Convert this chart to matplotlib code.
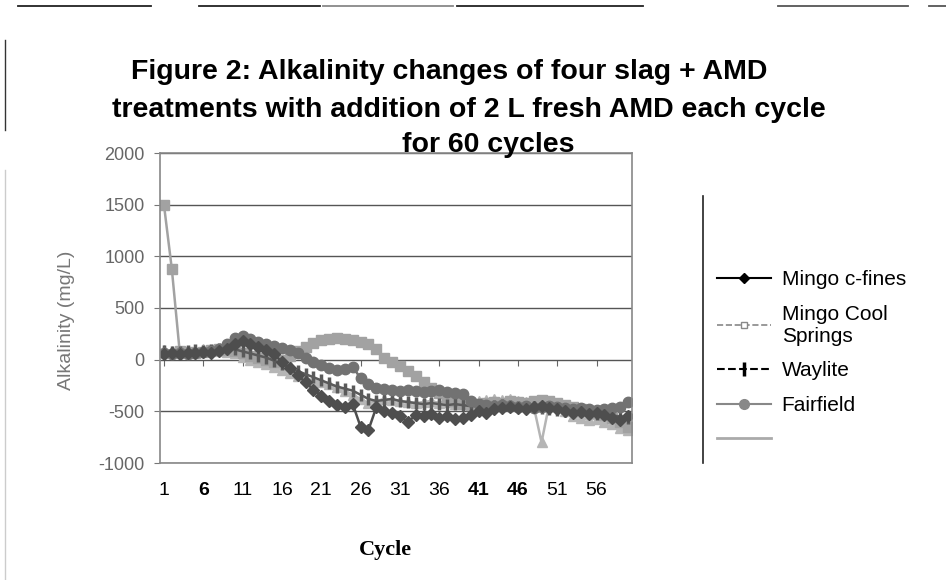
import matplotlib.pyplot as plt
from matplotlib.lines import Line2D

plt.rcParams['font.family'] = ['Liberation Sans', 'DejaVu Sans']

# cycles 1..60 (category axis)
cycles = list(range(1, 61))

mingo_cfines = [50, 60, 50, 60, 60, 70, 60, 80, 100, 150,
                180, 150, 120, 90, 50, -20, -80, -150, -220, -290,
                -350, -400, -440, -460, -430, -650, -680, -460, -500, -520,
                -550, -600, -540, -550, -530, -560, -550, -570, -560, -540,
                -500, -520, -480, -470, -460, -470, -480, -460, -450, -470,
                -480, -500, -520, -510, -530, -520, -540, -560, -580, -550]

mingo_cool = [1500, 880, 80, 70, 60, 70, 90, 100, 90, 80,
              60, 40, 20, 0, -20, 0, 40, 80, 120, 160,
              190, 200, 205, 200, 190, 170, 150, 100, 20, -20,
              -60, -110, -160, -220, -270, -320, -360, -400, -430, -440,
              -430, -420, -410, -420, -400, -410, -420, -400, -390, -400,
              -420, -440, -460, -480, -500, -520, -540, -560, -600, -650]

waylite = [80, 70, 70, 80, 90, 80, 90, 100, 110, 100,
           80, 60, 40, 20, -10, -40, -80, -110, -140, -170,
           -200, -230, -260, -280, -300, -340, -380, -400, -390, -380,
           -400, -410, -420, -430, -420, -430, -440, -430, -440, -450,
           -450, -460, -450, -440, -450, -460, -470, -460, -470, -480,
           -490, -500, -510, -500, -520, -530, -520, -540, -550, -560]

fairfield = [60, 50, 60, 50, 60, 70, 80, 100, 150, 210,
             230, 200, 170, 150, 130, 110, 90, 60, 20, -20,
             -50, -80, -100, -90, -70, -180, -240, -270, -280, -290,
             -300, -290, -300, -310, -300, -290, -310, -320, -330, -400,
             -430, -440, -450, -440, -450, -460, -450, -470, -460, -450,
             -460, -470, -480, -470, -480, -490, -480, -470, -460, -410]

fifth = [90, 80, 70, 80, 90, 100, 90, 80, 70, 60,
         30, 0, -20, -40, -70, -100, -130, -160, -180, -200,
         -220, -240, -260, -300, -340, -380, -420, -400, -380, -390,
         -400, -410, -420, -410, -400, -420, -410, -430, -420, -410,
         -400, -390, -380, -390, -380, -400, -410, -450, -800, -420,
         -450, -500, -550, -560, -580, -570, -600, -620, -660, -680]

tick_cycles = [1, 6, 11, 16, 21, 26, 31, 36, 41, 46, 51, 56]
bold_ticks = [6, 41, 46]
y_ticks = [-1000, -500, 0, 500, 1000, 1500, 2000]

fig = plt.figure(figsize=(9.46, 5.8), dpi=100)
W, H = 946, 580
ax = fig.add_axes([160 / W, 1 - 463 / H, (632 - 160) / W, (463 - 153) / H])

ax.plot(cycles, fifth, color='#b5b5b5', marker='^', ms=7, lw=1.8)
ax.plot(cycles, mingo_cool, color='#a2a2a2', marker='s', ms=7, lw=1.8)
ax.plot(cycles, waylite, color='#5a5a5a', marker='|', ms=8, mew=2.5, lw=1.8)
ax.plot(cycles, fairfield, color='#727272', marker='o', ms=7.5, lw=1.8)
ax.plot(cycles, mingo_cfines, color='#4e4e4e', marker='D', ms=6, lw=1.8)

ax.set_xlim(0.5, 60.5)
ax.set_ylim(-1000, 2000)
ax.set_yticks(y_ticks)
ax.set_yticklabels([str(v) for v in y_ticks])
ax.tick_params(axis='y', length=4, pad=7, color='#777', labelcolor='#666', labelsize=13)
ax.grid(axis='y', color='#555', lw=1)
ax.set_axisbelow(True)

ax.set_xticks(tick_cycles)
ax.set_xticklabels([str(c) for c in tick_cycles])
ax.tick_params(axis='x', length=0, pad=14, labelsize=14, labelcolor='black')
for lab, c in zip(ax.get_xticklabels(), tick_cycles):
    if c in bold_ticks:
        lab.set_fontweight('bold')

for s in ax.spines.values():
    s.set_color('#888')
    s.set_linewidth(1.2)

# category axis crossing at 0
sec = ax.secondary_xaxis(1 / 3)
sec.set_xticks(tick_cycles)
sec.tick_params(axis='x', bottom=True, top=False, labelbottom=False, labeltop=False,
                direction='out', length=4, color='#666')
for s in sec.spines.values():
    s.set_visible(False)

ax.set_ylabel('Alkalinity (mg/L)', color='#777', fontsize=14)
ax.yaxis.set_label_coords((75 - 160) / 472, 0.46)
ax.set_xlabel('Cycle', fontfamily='Liberation Serif', fontweight='bold', fontsize=16)
ax.xaxis.set_label_coords((385 - 160) / 472, (463 - 540) / 310)

tfont = dict(fontweight='bold', fontsize=20.5, ha='center', va='center')
fig.text(449 / W, 1 - 72 / H, 'Figure 2: Alkalinity changes of four slag + AMD', **tfont)
fig.text(469 / W, 1 - 110 / H, 'treatments with addition of 2 L fresh AMD each cycle', **tfont)
fig.text(488 / W, 1 - 145 / H, 'for 60 cycles', **tfont)

# legend (right side, cut by the page edge)
handles = [
    Line2D([], [], color='black', marker='D', ms=5, lw=1.5),
    Line2D([], [], color='#888', marker='s', ms=5, mfc='white', ls='--', lw=1.2),
    Line2D([], [], color='black', marker='|', ms=10, mew=2.5, ls='--', lw=1.5),
    Line2D([], [], color='#888', marker='o', ms=7, lw=1.5),
    Line2D([], [], color='#aaa', lw=2),
]
labels = ['Mingo c-fines', 'Mingo Cool\nSprings', 'Waylite', 'Fairfield', '']
fig.legend(handles, labels, loc='upper left', bbox_to_anchor=(717 / W, 1 - 270 / H),
           frameon=False, fontsize=15, handlelength=2.6, handletextpad=0.5,
           labelspacing=0.75, borderpad=0, borderaxespad=0)
fig.add_artist(Line2D([703 / W, 703 / W], [1 - 196 / H, 1 - 463 / H], transform=fig.transFigure,
                      color='#222', lw=1.2))

# scan marks along the top edge
for x0, x1, col in [(18, 151, '#222'), (199, 320, '#222'), (323, 453, '#888'),
                    (457, 643, '#222'), (778, 908, '#555'), (929, 946, '#555')]:
    fig.add_artist(Line2D([x0 / W, x1 / W], [1 - 6 / H] * 2, transform=fig.transFigure,
                          color=col, lw=1.3))
fig.add_artist(Line2D([5 / W, 5 / W], [1 - 40 / H, 1 - 130 / H], transform=fig.transFigure,
                      color='#333', lw=1))
fig.add_artist(Line2D([5 / W, 5 / W], [1 - 170 / H, 0], transform=fig.transFigure,
                      color='#ccc', lw=1))

fig.savefig('out.png', dpi=100)
